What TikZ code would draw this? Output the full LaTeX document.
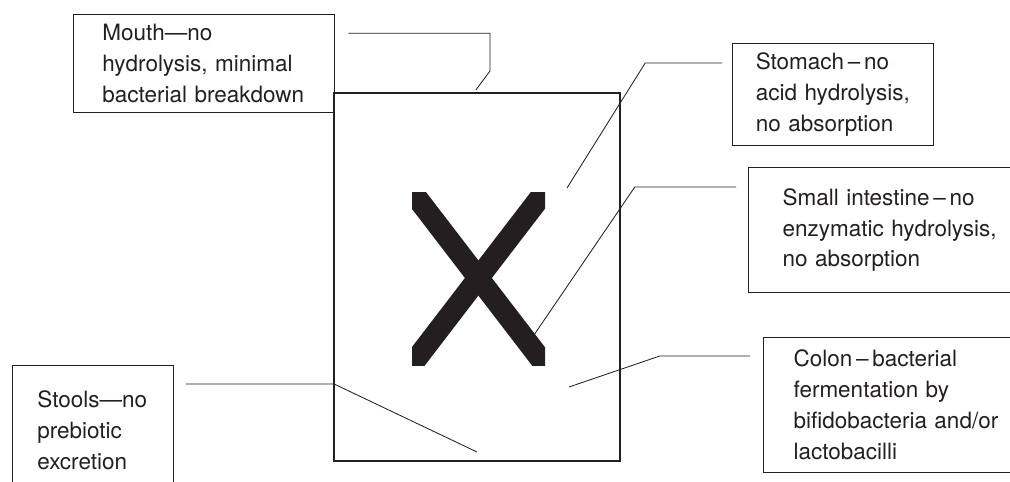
\documentclass[tikz,border=0pt]{standalone}
\usepackage{fontspec}
\setmainfont{TeX Gyre Heros}
\usepackage{xcolor}
\usepackage{tikz}
\definecolor{GutInk}{HTML}{231F20}
\hyphenpenalty=10000

\begin{document}
\begin{tikzpicture}[x=1cm,y=1cm,
  stagebox/.style={draw=GutInk,line width=0.8pt,anchor=north west,align=left,
    text=GutInk,font=\fontsize{16}{22}\selectfont},
  lead/.style={draw=GutInk,line width=0.6pt}]
\path[use as bounding box] (0,0) rectangle (25.25,12.025);
\draw[GutInk,line width=1.3pt] (8.35,0.50) rectangle (15.50,9.70);
\begin{scope}
\clip (10.30,2.90) rectangle (13.625,7.225);
\draw[GutInk,line width=0.535cm] (10.12,7.475) -- (13.82,2.65);
\draw[GutInk,line width=0.535cm] (13.80,7.475) -- (10.10,2.65);
\end{scope}
\node[stagebox,inner xsep=0.72cm,text width=5.085cm,minimum height=2.45cm] (mouth) at (1.825,11.675)
  {Mouth—no\\hydrolysis,~minimal\\bacterial~breakdown};
\node[stagebox,inner xsep=0.58cm,text width=3.865cm,minimum height=2.55cm] (stomach) at (18.30,10.95)
  {Stomach\,–\,no\\acid~hydrolysis,\\no~absorption};
\node[stagebox,inner xsep=0.85cm,text width=5.80cm,minimum height=3.125cm] (smallint) at (18.70,7.85)
  {Small~intestine\,–\,no\\enzymatic~hydrolysis,\\no~absorption};
\node[stagebox,inner xsep=0.75cm,text width=5.20cm,minimum height=3.375cm] (colon) at (19.075,3.60)
  {Colon\,–\,bacterial\\fermentation~by\\bifidobacteria~and/or\\lactobacilli};
\node[stagebox,inner xsep=0.62cm,text width=2.785cm,minimum height=3.25cm] (stools) at (0.30,2.90)
  {Stools—no\\prebiotic\\excretion};
\coordinate (mouthend) at (11.90,9.78);
\coordinate (stomachend) at (14.175,7.325);
\coordinate (smallintend) at (13.35,3.65);
\coordinate (colonend) at (14.225,2.35);
\coordinate (stoolsend) at (11.925,0.725);
\draw[lead] ([shift={(0.33,-0.48)}]mouth.north east) -| (12.25,10.25) -- (mouthend);
\draw[lead] ([shift={(-0.25,-0.50)}]stomach.north west) -- ++(-1.92,0) -- (stomachend);
\draw[lead] ([shift={(-0.30,-0.50)}]smallint.north west) -- ++(-2.53,0) -- (smallintend);
\draw[lead] ([shift={(-0.33,-0.475)}]colon.north west) -- ++(-2.25,0) -- (colonend);
\draw[lead] ([shift={(0.30,-0.475)}]stools.north east) -- ++(3.70,0) -- (stoolsend);
\end{tikzpicture}
\end{document}
